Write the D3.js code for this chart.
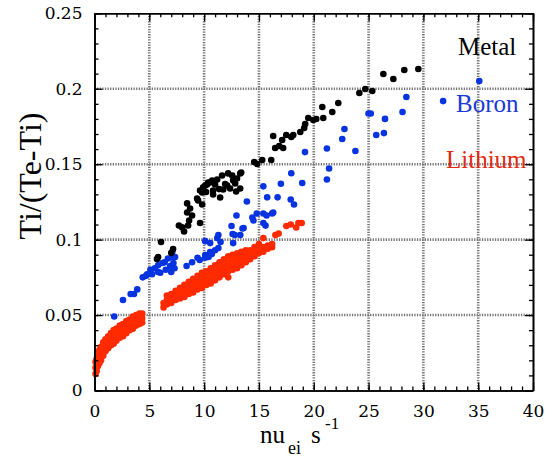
<!DOCTYPE html>
<html lang="en">
<head>
	<meta charset="UTF-8">
	<title>Ti/(Te-Ti) vs nu_ei</title>
	<script src="https://d3js.org/d3.v7.min.js"></script>
</head>
<body>
	<div id="chart"></div>
</body>

<style>
	body {
		margin: 0;
		background: #fff;
	}
</style>

<script>
	// tick values and labels
	const xTicks = [0, 5, 10, 15, 20, 25, 30, 35, 40]
	const yTicks = [0, 0.05, 0.1, 0.15, 0.2, 0.25]
	const yTickLabels = ['0', '0.05', '0.1', '0.15', '0.2', '0.25']

	// series names, drawn in this order
	const seriesNames = ['Lithium', 'Boron', 'Metal']

	// Lithium (red): [nu_ei, Ti/(Te-Ti)]
	const lithium = [
		[0.1,0.011],[0.1,0.015],[0.1,0.019],[0.2,0.013],[0.2,0.017],[0.2,0.021],
		[0.3,0.016],[0.3,0.021],[0.3,0.025],[0.45,0.018],[0.45,0.023],[0.45,0.027],
		[0.6,0.020],[0.6,0.025],[0.6,0.029],[0.8,0.023],[0.8,0.028],[0.8,0.032],
		[1.0,0.026],[1.0,0.030],[1.0,0.034],[1.25,0.028],[1.25,0.032],[1.25,0.036],
		[1.5,0.030],[1.5,0.034],[1.5,0.038],[1.75,0.031],[1.75,0.036],[1.75,0.040],
		[2.0,0.033],[2.0,0.037],[2.0,0.041],[2.3,0.035],[2.3,0.039],[2.3,0.043],
		[2.6,0.036],[2.6,0.040],[2.6,0.044],[2.9,0.038],[2.9,0.042],[2.9,0.046],
		[3.2,0.040],[3.2,0.044],[3.2,0.047],[3.5,0.041],[3.5,0.045],[3.5,0.049],
		[3.8,0.043],[3.8,0.046],[3.8,0.050],[4.1,0.044],[4.1,0.047],[4.1,0.051],
		[4.35,0.045],[4.35,0.048],[4.35,0.051],
		[6.3,0.055],[6.3,0.058],[6.6,0.057],[6.6,0.060],[6.6,0.063],
		[7.0,0.058],[7.0,0.061],[7.0,0.064],[7.4,0.060],[7.4,0.063],[7.4,0.066],
		[7.8,0.061],[7.8,0.064],[7.8,0.068],[8.2,0.062],[8.2,0.065],[8.2,0.068],[8.2,0.070],
		[8.6,0.064],[8.6,0.067],[8.6,0.070],[8.6,0.072],[9.0,0.065],[9.0,0.068],[9.0,0.071],[9.0,0.074],
		[9.4,0.067],[9.4,0.070],[9.4,0.073],[9.4,0.076],[9.8,0.068],[9.8,0.071],[9.8,0.074],[9.8,0.078],
		[10.2,0.070],[10.2,0.073],[10.2,0.076],[10.2,0.079],[10.6,0.071],[10.6,0.074],[10.6,0.078],[10.6,0.081],
		[11.0,0.073],[11.0,0.076],[11.0,0.079],[11.0,0.083],[11.4,0.075],[11.4,0.078],[11.4,0.081],[11.4,0.085],
		[11.8,0.077],[11.8,0.080],[11.8,0.083],[11.8,0.087],[12.2,0.075],[12.2,0.079],[12.2,0.082],[12.2,0.085],[12.2,0.089],
		[12.6,0.080],[12.6,0.083],[12.6,0.087],[12.6,0.090],[13.0,0.081],[13.0,0.085],[13.0,0.088],[13.0,0.091],
		[13.4,0.083],[13.4,0.086],[13.4,0.089],[13.4,0.092],[13.8,0.085],[13.8,0.088],[13.8,0.091],[13.8,0.093],
		[14.2,0.087],[14.2,0.090],[14.2,0.093],[14.6,0.089],[14.6,0.092],[14.6,0.095],
		[15.0,0.091],[15.0,0.094],[15.0,0.097],[15.4,0.092],[15.4,0.095],[15.4,0.101],
		[15.8,0.094],[15.8,0.096],[16.2,0.095],[16.2,0.097],
		[16.5,0.103],[16.8,0.104],[17.5,0.109],[17.9,0.110],[18.4,0.108],[18.6,0.111],[18.9,0.111]
	]

	// Boron (blue)
	const boron = [
		[1.8,0.049],[2.6,0.060],[3.3,0.064],[3.6,0.064],[3.9,0.067],
		[4.4,0.075],[4.7,0.076],[4.8,0.077],[5.1,0.080],[5.25,0.077],[5.5,0.081],[5.8,0.083],[5.8,0.0785],
		[6.0,0.078],[6.2,0.0845],[6.4,0.085],[6.5,0.080],[6.7,0.0875],[6.9,0.0825],[7.0,0.0785],
		[7.1,0.0885],[7.1,0.092],[7.2,0.0845],[7.3,0.081],[7.35,0.0885],
		[8.4,0.0825],[8.9,0.085],[9.4,0.088],[9.6,0.0865],[10.1,0.0898],[10.1,0.088],[10.4,0.0885],
		[10.55,0.0918],[10.7,0.0904],[11.0,0.093],[11.3,0.0944],[11.5,0.0984],[11.2,0.101],[11.3,0.103],
		[10.1,0.099],[10.55,0.0977],
		[12.5,0.109],[12.6,0.1037],[12.8,0.103],[13.3,0.103],[13.5,0.1074],[12.65,0.0977],[12.95,0.116],
		[13.6,0.1077],[14.4,0.1146],[14.5,0.1127],[14.8,0.1173],[15.4,0.1173],[15.6,0.1093],[15.4,0.111],
		[16.2,0.1173],[13.9,0.1253],[15.4,0.1353],[15.75,0.128],[15.7,0.116],[16.3,0.118],[16.7,0.128],
		[17.0,0.137],[17.9,0.1266],[18.2,0.1233],[17.95,0.144],[18.95,0.1375],
		[19.2,0.158],[21.2,0.1604],[21.4,0.1471],[21.2,0.1398],[22.6,0.1667],[22.8,0.1733],[23.8,0.1587],
		[25.0,0.1836],[25.2,0.1836],[25.7,0.1693],[26.4,0.1706],[26.5,0.180],[28.1,0.1846],[28.45,0.1945],
		[31.8,0.1918],[35.1,0.2051]
	]

	// Metal (black)
	const metal = [
		[6.07,0.0984],[5.8,0.0885],[5.7,0.0871],[7.0,0.0911],[7.17,0.0938],
		[7.7,0.1094],[8.0,0.1081],[8.17,0.1054],[8.54,0.1094],[8.63,0.1127],[8.9,0.116],[8.45,0.118],
		[8.45,0.124],[8.72,0.1206],[9.36,0.1272],[9.45,0.1259],[9.63,0.111],[9.82,0.1313],[9.82,0.1233],
		[9.63,0.1326],[9.91,0.1346],[10.1,0.1359],[10.27,0.1365],[10.37,0.1379],[10.55,0.1379],[10.73,0.1392],
		[10.82,0.1299],[11.0,0.1365],[11.19,0.1398],[11.46,0.1279],[11.64,0.1425],[11.74,0.1332],[12.1,0.1359],
		[12.19,0.1439],[12.37,0.1339],[12.65,0.1392],[12.83,0.1372],[13.0,0.1405],[13.29,0.1438],[13.38,0.1445],
		[13.29,0.1339],[12.56,0.1425],[10.18,0.1316],[11.92,0.1369],[12.92,0.1319],[11.37,0.1335],[10.82,0.1326],
		[14.57,0.1514],[14.84,0.1501],[15.3,0.1528],[16.12,0.1528],[16.3,0.1687],[16.48,0.1607],[16.85,0.162],
		[17.12,0.166],[17.49,0.1693],[17.21,0.1607],[17.95,0.168],[18.13,0.1693],[18.77,0.1713],[19.13,0.174],
		[19.22,0.1766],[19.5,0.1806],[19.95,0.1793],[20.23,0.1799],[20.78,0.1879],[20.87,0.1806],[21.69,0.1846],
		[22.24,0.1905],[24.16,0.1972],[24.7,0.1998],[25.34,0.1985],[26.35,0.2098],[27.26,0.2065],[28.26,0.2124],
		[29.54,0.2131]
	]

	const W = 555, H = 459
	const plot = { left: 94.5, right: 533, top: 13.3, bottom: 390.5 }
	const colors = { Lithium: '#ff2a00', Boron: '#0833e0', Metal: '#000000' }
	const labelColors = { Lithium: '#e02a12', Boron: '#1a3ad6', Metal: '#000000' }
	const serif = '"Liberation Serif", "Times New Roman", serif'

	const svg = d3.select('#chart').append('svg').attr('width', W).attr('height', H)
	svg.append('rect').attr('width', W).attr('height', H).attr('fill', '#fff')

	const x = d3.scaleLinear().domain([0, 40]).range([plot.left, plot.right])
	const y = d3.scaleLinear().domain([0, 0.25]).range([plot.bottom, plot.top])

	// grid (dotted)
	const grid = svg.append('g')
	grid.selectAll('.gx').data(xTicks.slice(1, -1)).join('line')
		.attr('x1', d => x(d)).attr('x2', d => x(d))
		.attr('y1', plot.top).attr('y2', plot.bottom)
	grid.selectAll('.gy').data(yTicks.slice(1, -1)).join('line')
		.attr('y1', d => y(d)).attr('y2', d => y(d))
		.attr('x1', plot.left).attr('x2', plot.right)
	grid.selectAll('line').attr('stroke', '#777').attr('stroke-width', 2.6).attr('stroke-dasharray', '1.3,1.3')

	// points
	const series = { Lithium: lithium, Boron: boron, Metal: metal }
	for (const name of seriesNames) {
		svg.append('g').selectAll('circle').data(series[name]).join('circle')
			.attr('cx', d => x(d[0])).attr('cy', d => y(d[1]))
			.attr('r', 3.3).attr('fill', colors[name])
	}

	// axes - major + minor ticks on all four sides, pointing in
	const minorX = d3.range(0, 41, 1)
	const minorY = d3.range(0, 26, 1).map(d => d / 100)
	function addAxis(gen, transform, labelled) {
		const g = svg.append('g').attr('transform', transform).call(gen)
		g.select('.domain').attr('stroke', '#000').attr('stroke-width', 1.6)
		g.selectAll('.tick line').attr('stroke', '#000').attr('stroke-width', 1.3)
		if (!labelled) g.selectAll('.tick text').remove()
		g.attr('font-family', '"DejaVu Serif", serif').attr('font-size', 17)
		g.selectAll('.tick text').attr('fill', '#000')
		return g
	}
	const fy = d => yTickLabels[yTicks.indexOf(d)]
	addAxis(d3.axisBottom(x).tickValues(minorX).tickSizeInner(-4).tickSizeOuter(0), `translate(0,${plot.bottom})`, false)
	addAxis(d3.axisTop(x).tickValues(minorX).tickSizeInner(-4).tickSizeOuter(0), `translate(0,${plot.top})`, false)
	addAxis(d3.axisLeft(y).tickValues(minorY).tickSizeInner(-4).tickSizeOuter(0), `translate(${plot.left},0)`, false)
	addAxis(d3.axisRight(y).tickValues(minorY).tickSizeInner(-4).tickSizeOuter(0), `translate(${plot.right},0)`, false)
	addAxis(d3.axisBottom(x).tickValues(xTicks).tickSizeInner(-8).tickSizeOuter(0).tickPadding(14).tickFormat(d3.format('d')), `translate(0,${plot.bottom})`, true)
	addAxis(d3.axisTop(x).tickValues(xTicks).tickSizeInner(-8).tickSizeOuter(0), `translate(0,${plot.top})`, false)
	addAxis(d3.axisLeft(y).tickValues(yTicks).tickSizeInner(-8).tickSizeOuter(0).tickPadding(12).tickFormat(fy), `translate(${plot.left},0)`, true)
	addAxis(d3.axisRight(y).tickValues(yTicks).tickSizeInner(-8).tickSizeOuter(0), `translate(${plot.right},0)`, false)

	// axis titles
	svg.append('text').attr('font-family', serif)
		.attr('transform', 'translate(30,176) rotate(-90)')
		.attr('text-anchor', 'middle').attr('dominant-baseline', 'central')
		.attr('font-size', 32).text('Ti/(Te-Ti)')

	const xt = svg.append('g').attr('font-family', serif)
	xt.append('text').attr('x', 260).attr('y', 443).attr('font-size', 25).text('nu')
	xt.append('text').attr('x', 288).attr('y', 454).attr('font-size', 18).text('ei')
	xt.append('text').attr('x', 311).attr('y', 443).attr('font-size', 25).text('s')
	xt.append('text').attr('x', 325).attr('y', 429).attr('font-size', 17).text('-1')

	// series labels
	const legendPos = { Metal: [458, 55], Boron: [456, 112], Lithium: [446, 168] }
	for (const name of seriesNames) {
		svg.append('text').attr('font-family', serif)
			.attr('x', legendPos[name][0]).attr('y', legendPos[name][1])
			.attr('font-size', 25).attr('fill', labelColors[name]).text(name)
	}
</script>

</html>
